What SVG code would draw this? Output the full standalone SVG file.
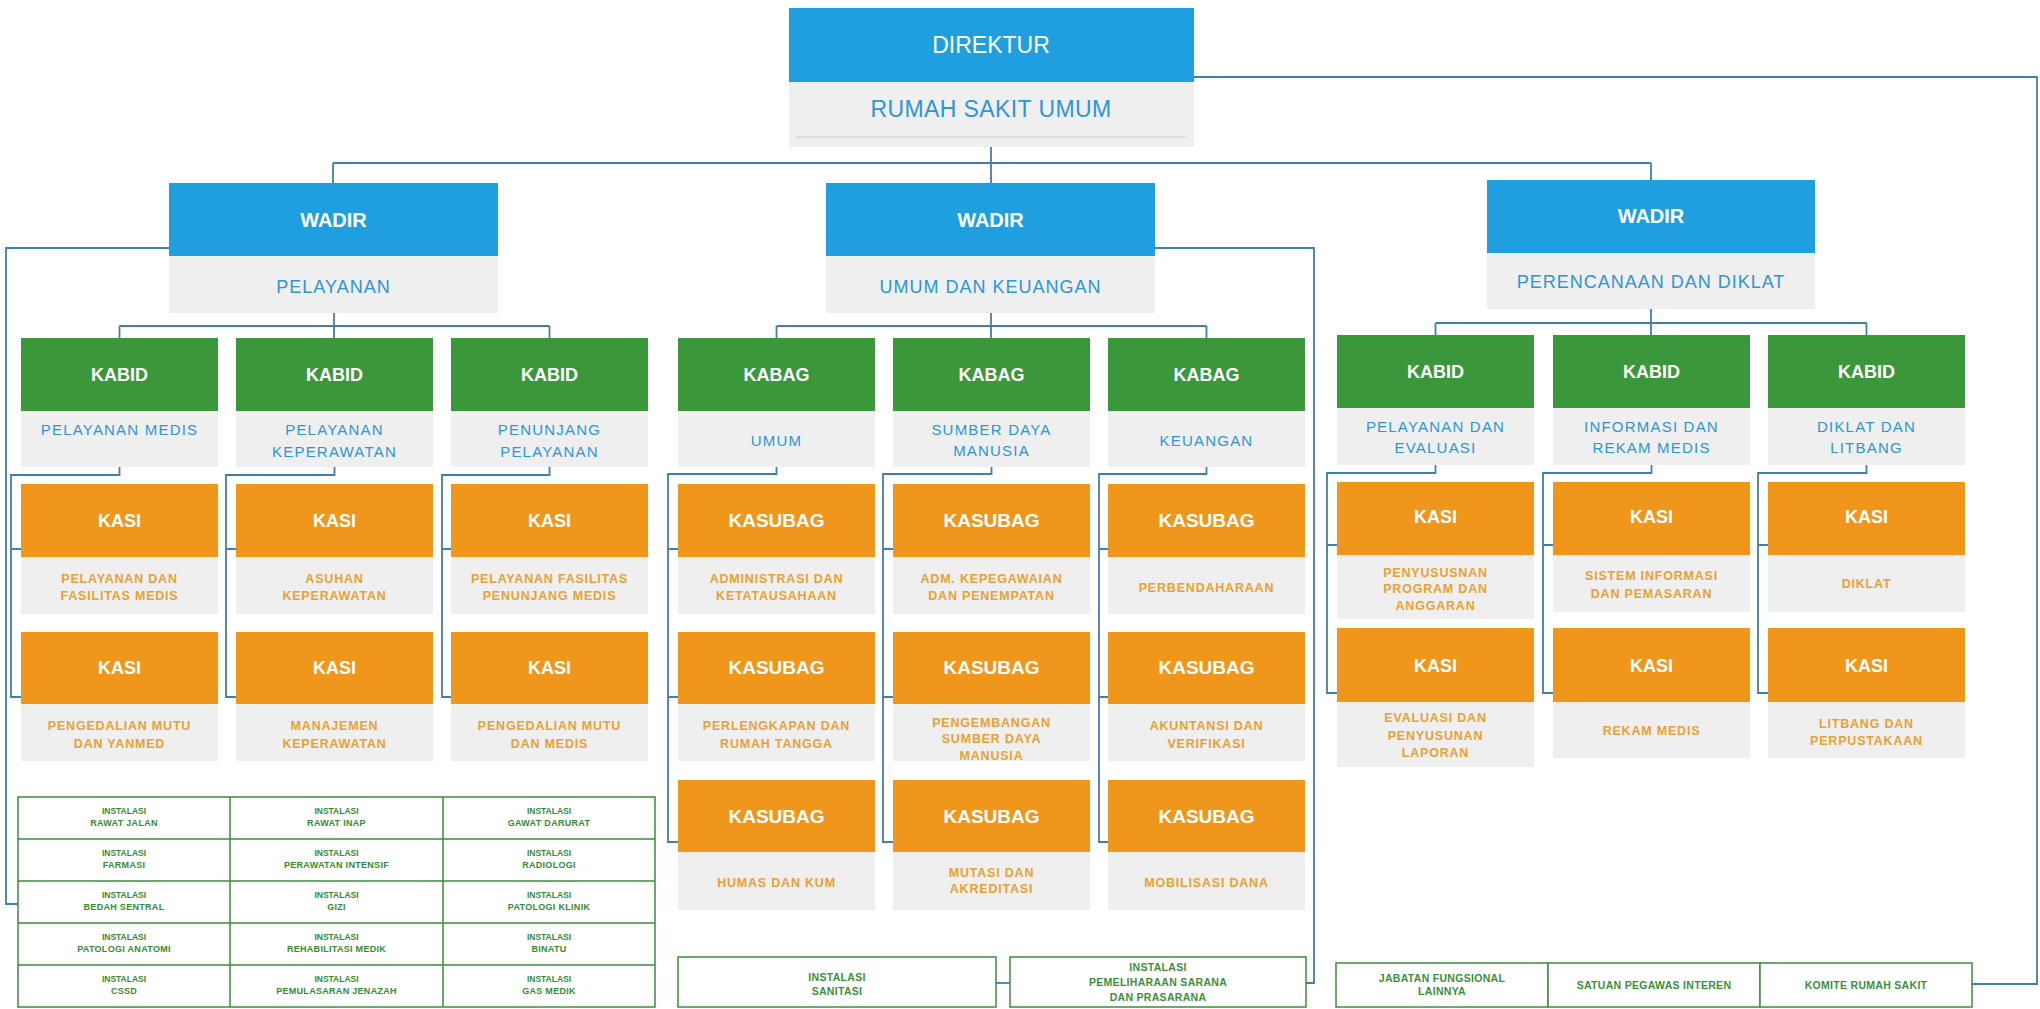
<svg xmlns="http://www.w3.org/2000/svg" width="2040" height="1009" viewBox="0 0 2040 1009">
<style>
  .blue{fill:#1f9fe0}
  .green{fill:#3a973a}
  .orange{fill:#f0961a}
  .gray{fill:#efefef}
  text{font-family:"Liberation Sans",Arial,sans-serif;text-anchor:middle}
  .t-dir{fill:#fff;font-size:23px}
  .t-head{fill:#fff;font-size:20px;font-weight:bold}
  .t-kab{fill:#fff;font-size:18px;font-weight:bold}
  .t-kas{fill:#fff;font-size:19px;font-weight:bold}
  .t-big{fill:#2d95d8;font-size:18px;letter-spacing:1px}
  .t-sub{fill:#2d95d8;font-size:15px;letter-spacing:1.2px}
  .t-desc{fill:#e9a034;font-size:12.5px;font-weight:bold;letter-spacing:0.8px}
  .t-ins{fill:#348a34;font-size:9px;font-weight:bold;letter-spacing:0.3px}
  .t-ins8{fill:#348a34;font-size:8.5px;font-weight:bold}
  .t-box{fill:#3a903a;font-size:10.5px;font-weight:bold;letter-spacing:0.3px}
  .conn{fill:none;stroke:#3f7fac;stroke-width:1.8}
  .frame{fill:#fff;stroke:#3c8c3c;stroke-width:1.5}
  .rule{stroke:#3c8c3c;stroke-width:1.5}
</style>

<!-- connector lines -->
<g id="connectors" class="conn">
  <path d="M991,147 V183 M333,163 H1651 M333,163 V183 M1651,163 V180"/>
  <path d="M1194,77 H2037 V984 H1972"/>
  <path d="M169,248 H6 V904 H18"/>
  <path d="M1155,248 H1314 V983 H1306"/>
  <path d="M996,983 H1010"/>
  <!-- wadir to kabid/kabag -->
  <path d="M334,313 V338 M119.5,326 H549.5 M119.5,326 V338 M549.5,326 V338"/>
  <path d="M991,313 V338 M776.5,326 H1206.5 M776.5,326 V338 M1206.5,326 V338"/>
  <path d="M1651,309 V335 M1435.5,323 H1866.5 M1435.5,323 V335 M1866.5,323 V335"/>
  <!-- kabid to kasi, left branch -->
  <path d="M119.5,467 V475 H11 V697 H21 M11,549 H21"/>
  <path d="M334.5,467 V475 H226 V697 H236 M226,549 H236"/>
  <path d="M549.5,467 V475 H442 V697 H451 M442,549 H451"/>
  <!-- kabag to kasubag -->
  <path d="M776.5,467 V474 H668 V842 H678 M668,549 H678 M668,697 H678"/>
  <path d="M991.5,467 V474 H883 V842 H893 M883,549 H893 M883,697 H893"/>
  <path d="M1206.5,467 V474 H1099 V842 H1108 M1099,549 H1108 M1099,697 H1108"/>
  <!-- kabid to kasi, right branch -->
  <path d="M1435.5,465 V473 H1327 V693 H1337 M1327,545 H1337"/>
  <path d="M1651.5,465 V473 H1543 V693 H1553 M1543,545 H1553"/>
  <path d="M1866.5,465 V473 H1758 V693 H1768 M1758,545 H1768"/>
</g>

<!-- director -->
<g id="direktur">
  <rect class="blue" x="789" y="8" width="405" height="74"/>
  <rect class="gray" x="789" y="82" width="405" height="65"/>
  <line x1="797" y1="137" x2="1186" y2="137" stroke="#9fb3c4" stroke-width="1" stroke-dasharray="1 1"/>
  <text class="t-dir" x="991" y="53">DIREKTUR</text>
  <text class="t-dir" x="991" y="117" style="fill:#2d95d8;letter-spacing:0.4px">RUMAH SAKIT UMUM</text>
</g>

<!-- deputy directors -->
<g id="wadir-pelayanan">
  <rect class="blue" x="169" y="183" width="329" height="73"/>
  <rect class="gray" x="169" y="256" width="329" height="57"/>
  <text class="t-head" x="333.5" y="227">WADIR</text>
  <text class="t-big" x="333.5" y="293">PELAYANAN</text>
</g>
<g id="wadir-umum">
  <rect class="blue" x="826" y="183" width="329" height="73"/>
  <rect class="gray" x="826" y="256" width="329" height="57"/>
  <text class="t-head" x="990.5" y="227">WADIR</text>
  <text class="t-big" x="990.5" y="293">UMUM DAN KEUANGAN</text>
</g>
<g id="wadir-perencanaan">
  <rect class="blue" x="1487" y="180" width="328" height="73"/>
  <rect class="gray" x="1487" y="253" width="328" height="56"/>
  <text class="t-head" x="1651" y="223">WADIR</text>
  <text class="t-big" x="1651" y="288">PERENCANAAN DAN DIKLAT</text>
</g>

<!-- kabid: pelayanan -->
<g id="kabid-yanmed">
  <rect class="green" x="21" y="338" width="197" height="73"/>
  <rect class="gray" x="21" y="411" width="197" height="56"/>
  <text class="t-kab" x="119.5" y="381">KABID</text>
  <text class="t-sub" x="119.5" y="435">PELAYANAN MEDIS</text>
</g>
<g id="kabid-keperawatan">
  <rect class="green" x="236" y="338" width="197" height="73"/>
  <rect class="gray" x="236" y="411" width="197" height="56"/>
  <text class="t-kab" x="334.5" y="381">KABID</text>
  <text class="t-sub" x="334.5" y="435">PELAYANAN</text>
  <text class="t-sub" x="334.5" y="457">KEPERAWATAN</text>
</g>
<g id="kabid-penunjang">
  <rect class="green" x="451" y="338" width="197" height="73"/>
  <rect class="gray" x="451" y="411" width="197" height="56"/>
  <text class="t-kab" x="549.5" y="381">KABID</text>
  <text class="t-sub" x="549.5" y="435">PENUNJANG</text>
  <text class="t-sub" x="549.5" y="457">PELAYANAN</text>
</g>

<!-- kasi: pelayanan -->
<g id="kasi-fasilitas-medis">
  <rect class="orange" x="21" y="484" width="197" height="73"/>
  <rect class="gray" x="21" y="557" width="197" height="57"/>
  <text class="t-kab" x="119.5" y="527">KASI</text>
  <text class="t-desc" x="119.5" y="583">PELAYANAN DAN</text>
  <text class="t-desc" x="119.5" y="600">FASILITAS MEDIS</text>
</g>
<g id="kasi-asuhan">
  <rect class="orange" x="236" y="484" width="197" height="73"/>
  <rect class="gray" x="236" y="557" width="197" height="57"/>
  <text class="t-kab" x="334.5" y="527">KASI</text>
  <text class="t-desc" x="334.5" y="583">ASUHAN</text>
  <text class="t-desc" x="334.5" y="600">KEPERAWATAN</text>
</g>
<g id="kasi-fasilitas-penunjang">
  <rect class="orange" x="451" y="484" width="197" height="73"/>
  <rect class="gray" x="451" y="557" width="197" height="57"/>
  <text class="t-kab" x="549.5" y="527">KASI</text>
  <text class="t-desc" x="549.5" y="583">PELAYANAN FASILITAS</text>
  <text class="t-desc" x="549.5" y="600">PENUNJANG MEDIS</text>
</g>
<g id="kasi-mutu-yanmed">
  <rect class="orange" x="21" y="632" width="197" height="72"/>
  <rect class="gray" x="21" y="704" width="197" height="57"/>
  <text class="t-kab" x="119.5" y="674">KASI</text>
  <text class="t-desc" x="119.5" y="730">PENGEDALIAN MUTU</text>
  <text class="t-desc" x="119.5" y="748">DAN YANMED</text>
</g>
<g id="kasi-manajemen">
  <rect class="orange" x="236" y="632" width="197" height="72"/>
  <rect class="gray" x="236" y="704" width="197" height="57"/>
  <text class="t-kab" x="334.5" y="674">KASI</text>
  <text class="t-desc" x="334.5" y="730">MANAJEMEN</text>
  <text class="t-desc" x="334.5" y="748">KEPERAWATAN</text>
</g>
<g id="kasi-mutu-medis">
  <rect class="orange" x="451" y="632" width="197" height="72"/>
  <rect class="gray" x="451" y="704" width="197" height="57"/>
  <text class="t-kab" x="549.5" y="674">KASI</text>
  <text class="t-desc" x="549.5" y="730">PENGEDALIAN MUTU</text>
  <text class="t-desc" x="549.5" y="748">DAN MEDIS</text>
</g>

<!-- installations table -->
<g id="instalasi-pelayanan">
  <rect class="frame" x="18" y="797" width="637" height="210"/>
  <path class="rule" d="M230,797 V1007 M443,797 V1007 M18,839 H655 M18,881 H655 M18,923 H655 M18,965 H655"/>
  <g class="t-ins8">
    <text x="124" y="814">INSTALASI</text><text x="336.5" y="814">INSTALASI</text><text x="549" y="814">INSTALASI</text>
    <text x="124" y="856">INSTALASI</text><text x="336.5" y="856">INSTALASI</text><text x="549" y="856">INSTALASI</text>
    <text x="124" y="898">INSTALASI</text><text x="336.5" y="898">INSTALASI</text><text x="549" y="898">INSTALASI</text>
    <text x="124" y="940">INSTALASI</text><text x="336.5" y="940">INSTALASI</text><text x="549" y="940">INSTALASI</text>
    <text x="124" y="982">INSTALASI</text><text x="336.5" y="982">INSTALASI</text><text x="549" y="982">INSTALASI</text>
  </g>
  <g class="t-ins">
    <text x="124" y="826">RAWAT JALAN</text><text x="336.5" y="826">RAWAT INAP</text><text x="549" y="826">GAWAT DARURAT</text>
    <text x="124" y="868">FARMASI</text><text x="336.5" y="868">PERAWATAN INTENSIF</text><text x="549" y="868">RADIOLOGI</text>
    <text x="124" y="910">BEDAH SENTRAL</text><text x="336.5" y="910">GIZI</text><text x="549" y="910">PATOLOGI KLINIK</text>
    <text x="124" y="952">PATOLOGI ANATOMI</text><text x="336.5" y="952">REHABILITASI MEDIK</text><text x="549" y="952">BINATU</text>
    <text x="124" y="994">CSSD</text><text x="336.5" y="994">PEMULASARAN JENAZAH</text><text x="549" y="994">GAS MEDIK</text>
  </g>
</g>

<!-- kabag: umum dan keuangan -->
<g id="kabag-umum">
  <rect class="green" x="678" y="338" width="197" height="73"/>
  <rect class="gray" x="678" y="411" width="197" height="56"/>
  <text class="t-kab" x="776.5" y="381">KABAG</text>
  <text class="t-sub" x="776.5" y="446">UMUM</text>
</g>
<g id="kabag-sdm">
  <rect class="green" x="893" y="338" width="197" height="73"/>
  <rect class="gray" x="893" y="411" width="197" height="56"/>
  <text class="t-kab" x="991.5" y="381">KABAG</text>
  <text class="t-sub" x="991.5" y="435">SUMBER DAYA</text>
  <text class="t-sub" x="991.5" y="456">MANUSIA</text>
</g>
<g id="kabag-keuangan">
  <rect class="green" x="1108" y="338" width="197" height="73"/>
  <rect class="gray" x="1108" y="411" width="197" height="56"/>
  <text class="t-kab" x="1206.5" y="381">KABAG</text>
  <text class="t-sub" x="1206.5" y="446">KEUANGAN</text>
</g>

<!-- kasubag -->
<g id="kasubag-administrasi">
  <rect class="orange" x="678" y="484" width="197" height="73"/>
  <rect class="gray" x="678" y="557" width="197" height="57"/>
  <text class="t-kas" x="776.5" y="527">KASUBAG</text>
  <text class="t-desc" x="776.5" y="583">ADMINISTRASI DAN</text>
  <text class="t-desc" x="776.5" y="600">KETATAUSAHAAN</text>
</g>
<g id="kasubag-kepegawaian">
  <rect class="orange" x="893" y="484" width="197" height="73"/>
  <rect class="gray" x="893" y="557" width="197" height="57"/>
  <text class="t-kas" x="991.5" y="527">KASUBAG</text>
  <text class="t-desc" x="991.5" y="583">ADM. KEPEGAWAIAN</text>
  <text class="t-desc" x="991.5" y="600">DAN PENEMPATAN</text>
</g>
<g id="kasubag-perbendaharaan">
  <rect class="orange" x="1108" y="484" width="197" height="73"/>
  <rect class="gray" x="1108" y="557" width="197" height="57"/>
  <text class="t-kas" x="1206.5" y="527">KASUBAG</text>
  <text class="t-desc" x="1206.5" y="592">PERBENDAHARAAN</text>
</g>
<g id="kasubag-perlengkapan">
  <rect class="orange" x="678" y="632" width="197" height="72"/>
  <rect class="gray" x="678" y="704" width="197" height="57"/>
  <text class="t-kas" x="776.5" y="674">KASUBAG</text>
  <text class="t-desc" x="776.5" y="730">PERLENGKAPAN DAN</text>
  <text class="t-desc" x="776.5" y="748">RUMAH TANGGA</text>
</g>
<g id="kasubag-pengembangan">
  <rect class="orange" x="893" y="632" width="197" height="72"/>
  <rect class="gray" x="893" y="704" width="197" height="57"/>
  <text class="t-kas" x="991.5" y="674">KASUBAG</text>
  <text class="t-desc" x="991.5" y="727">PENGEMBANGAN</text>
  <text class="t-desc" x="991.5" y="743">SUMBER DAYA</text>
  <text class="t-desc" x="991.5" y="760">MANUSIA</text>
</g>
<g id="kasubag-akuntansi">
  <rect class="orange" x="1108" y="632" width="197" height="72"/>
  <rect class="gray" x="1108" y="704" width="197" height="57"/>
  <text class="t-kas" x="1206.5" y="674">KASUBAG</text>
  <text class="t-desc" x="1206.5" y="730">AKUNTANSI DAN</text>
  <text class="t-desc" x="1206.5" y="748">VERIFIKASI</text>
</g>
<g id="kasubag-humas">
  <rect class="orange" x="678" y="780" width="197" height="72"/>
  <rect class="gray" x="678" y="852" width="197" height="58"/>
  <text class="t-kas" x="776.5" y="823">KASUBAG</text>
  <text class="t-desc" x="776.5" y="887">HUMAS DAN KUM</text>
</g>
<g id="kasubag-mutasi">
  <rect class="orange" x="893" y="780" width="197" height="72"/>
  <rect class="gray" x="893" y="852" width="197" height="58"/>
  <text class="t-kas" x="991.5" y="823">KASUBAG</text>
  <text class="t-desc" x="991.5" y="877">MUTASI DAN</text>
  <text class="t-desc" x="991.5" y="893">AKREDITASI</text>
</g>
<g id="kasubag-mobilisasi">
  <rect class="orange" x="1108" y="780" width="197" height="72"/>
  <rect class="gray" x="1108" y="852" width="197" height="58"/>
  <text class="t-kas" x="1206.5" y="823">KASUBAG</text>
  <text class="t-desc" x="1206.5" y="887">MOBILISASI DANA</text>
</g>

<!-- installations under umum dan keuangan -->
<g id="instalasi-sanitasi">
  <rect class="frame" x="678" y="957" width="318" height="50"/>
  <text class="t-box" x="837" y="981">INSTALASI</text>
  <text class="t-box" x="837" y="995">SANITASI</text>
</g>
<g id="instalasi-pemeliharaan">
  <rect class="frame" x="1010" y="957" width="296" height="50"/>
  <text class="t-box" x="1158" y="971">INSTALASI</text>
  <text class="t-box" x="1158" y="986">PEMELIHARAAN SARANA</text>
  <text class="t-box" x="1158" y="1001">DAN PRASARANA</text>
</g>

<!-- kabid: perencanaan dan diklat -->
<g id="kabid-evaluasi">
  <rect class="green" x="1337" y="335" width="197" height="73"/>
  <rect class="gray" x="1337" y="408" width="197" height="57"/>
  <text class="t-kab" x="1435.5" y="378">KABID</text>
  <text class="t-sub" x="1435.5" y="432">PELAYANAN DAN</text>
  <text class="t-sub" x="1435.5" y="453">EVALUASI</text>
</g>
<g id="kabid-informasi">
  <rect class="green" x="1553" y="335" width="197" height="73"/>
  <rect class="gray" x="1553" y="408" width="197" height="57"/>
  <text class="t-kab" x="1651.5" y="378">KABID</text>
  <text class="t-sub" x="1651.5" y="432">INFORMASI DAN</text>
  <text class="t-sub" x="1651.5" y="453">REKAM MEDIS</text>
</g>
<g id="kabid-diklat">
  <rect class="green" x="1768" y="335" width="197" height="73"/>
  <rect class="gray" x="1768" y="408" width="197" height="57"/>
  <text class="t-kab" x="1866.5" y="378">KABID</text>
  <text class="t-sub" x="1866.5" y="432">DIKLAT DAN</text>
  <text class="t-sub" x="1866.5" y="453">LITBANG</text>
</g>

<g id="kasi-program">
  <rect class="orange" x="1337" y="482" width="197" height="73"/>
  <rect class="gray" x="1337" y="555" width="197" height="64"/>
  <text class="t-kab" x="1435.5" y="523">KASI</text>
  <text class="t-desc" x="1435.5" y="577">PENYUSUSNAN</text>
  <text class="t-desc" x="1435.5" y="593">PROGRAM DAN</text>
  <text class="t-desc" x="1435.5" y="610">ANGGARAN</text>
</g>
<g id="kasi-sistem-informasi">
  <rect class="orange" x="1553" y="482" width="197" height="73"/>
  <rect class="gray" x="1553" y="555" width="197" height="57"/>
  <text class="t-kab" x="1651.5" y="523">KASI</text>
  <text class="t-desc" x="1651.5" y="580">SISTEM INFORMASI</text>
  <text class="t-desc" x="1651.5" y="598">DAN PEMASARAN</text>
</g>
<g id="kasi-diklat">
  <rect class="orange" x="1768" y="482" width="197" height="73"/>
  <rect class="gray" x="1768" y="555" width="197" height="57"/>
  <text class="t-kab" x="1866.5" y="523">KASI</text>
  <text class="t-desc" x="1866.5" y="588">DIKLAT</text>
</g>
<g id="kasi-laporan">
  <rect class="orange" x="1337" y="628" width="197" height="74"/>
  <rect class="gray" x="1337" y="702" width="197" height="65"/>
  <text class="t-kab" x="1435.5" y="672">KASI</text>
  <text class="t-desc" x="1435.5" y="722">EVALUASI DAN</text>
  <text class="t-desc" x="1435.5" y="740">PENYUSUNAN</text>
  <text class="t-desc" x="1435.5" y="757">LAPORAN</text>
</g>
<g id="kasi-rekam-medis">
  <rect class="orange" x="1553" y="628" width="197" height="74"/>
  <rect class="gray" x="1553" y="702" width="197" height="56"/>
  <text class="t-kab" x="1651.5" y="672">KASI</text>
  <text class="t-desc" x="1651.5" y="735">REKAM MEDIS</text>
</g>
<g id="kasi-litbang">
  <rect class="orange" x="1768" y="628" width="197" height="74"/>
  <rect class="gray" x="1768" y="702" width="197" height="56"/>
  <text class="t-kab" x="1866.5" y="672">KASI</text>
  <text class="t-desc" x="1866.5" y="728">LITBANG DAN</text>
  <text class="t-desc" x="1866.5" y="745">PERPUSTAKAAN</text>
</g>

<!-- units reporting to the director -->
<g id="unit-fungsional">
  <rect class="frame" x="1336" y="963" width="212" height="44"/>
  <text class="t-box" x="1442" y="982">JABATAN FUNGSIONAL</text>
  <text class="t-box" x="1442" y="995">LAINNYA</text>
</g>
<g id="unit-spi">
  <rect class="frame" x="1548" y="963" width="212" height="44"/>
  <text class="t-box" x="1654" y="989">SATUAN PEGAWAS INTEREN</text>
</g>
<g id="unit-komite">
  <rect class="frame" x="1760" y="963" width="212" height="44"/>
  <text class="t-box" x="1866" y="989">KOMITE RUMAH SAKIT</text>
</g>
</svg>
